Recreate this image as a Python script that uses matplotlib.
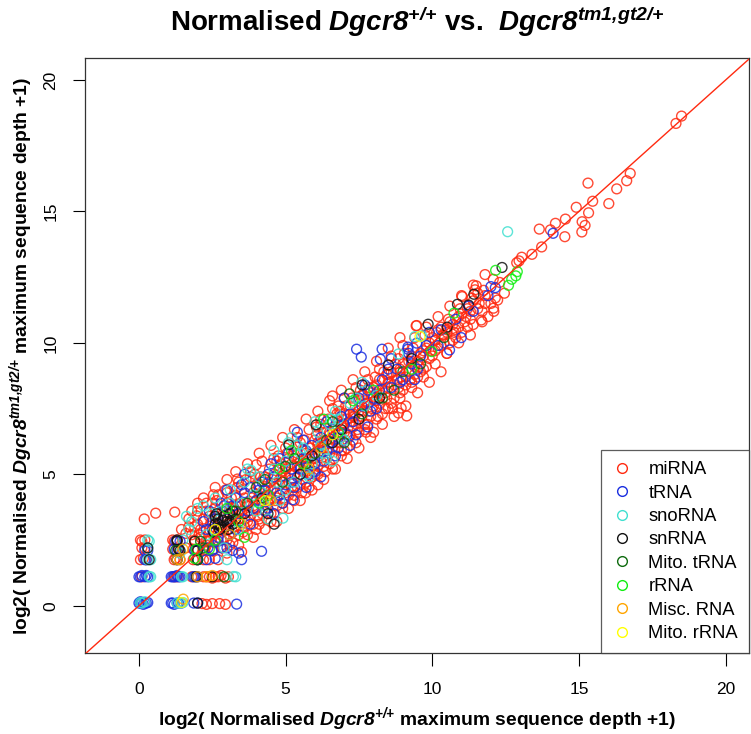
import matplotlib
matplotlib.use("Agg")
import matplotlib.pyplot as plt
from matplotlib.lines import Line2D

plt.rcParams['font.family'] = ['Liberation Sans', 'DejaVu Sans']
plt.rcParams['mathtext.fontset'] = 'custom'
plt.rcParams['mathtext.rm'] = 'Liberation Sans:italic:bold'
plt.rcParams['mathtext.it'] = 'Liberation Sans:italic:bold'
plt.rcParams['mathtext.bf'] = 'Liberation Sans:italic:bold'

categories = ["miRNA", "tRNA", "snoRNA", "snRNA", "Mito. tRNA", "rRNA", "Misc. RNA", "Mito. rRNA"]
colors = ["#ff2a10", "#1a2ee0", "#40e0d0", "#111111", "#0e6b0e", "#10ee10", "#ffa500", "#ffff00"]

mirna_x = [0.1, 0.2, 0.05, 0.15, 0.1, 0.1, 1.2, 1.3, 1.15, 1.2, 1.25, 1.4, 1.9, 1.85, 1.95, 1.8, 2.3, 2.5, 2.7, 2.95,
           2.3, 2.5, 2.75, 2.95, 2.15, 0.18, 0.57, 1.22, 1.96, 2.3, 2.5, 2.4, 2.7, 2.6, 1.45, 2.1, 2.71, 1.6,
           1.7, 2.0, 2.2, 2.4, 2.54, 2.8, 2.9, 3.0, 3.1, 3.2, 2.6, 3.36, 3.3, 3.4, 3.5, 3.5, 2.85, 3.6, 3.7, 3.8,
           3.9, 4.0, 4.0, 4.1, 4.2, 4.3, 4.4, 4.5, 4.5, 4.6, 4.7, 4.8, 4.9, 5.0, 5.0, 5.1, 5.2, 5.3, 5.4, 5.5,
           5.6, 5.68, 5.7, 5.8, 5.9, 6.0, 6.0, 6.1, 6.2, 6.3, 6.4, 6.5, 6.6, 6.6, 6.7, 6.8, 6.9, 7.0, 7.0, 7.1,
           7.2, 7.3, 7.4, 7.5, 7.6, 7.7, 7.8, 7.9, 8.0, 8.0, 8.1, 8.2, 8.3, 8.4, 8.5, 8.6, 8.7, 8.85, 8.94, 9.13,
           8.9, 9.0, 9.1, 9.2, 9.3, 9.45, 9.47, 9.4, 9.5, 9.6, 9.7, 9.8, 9.9, 10.0, 10.1, 10.2, 10.3, 10.4, 10.5,
           10.6, 10.7, 10.8, 10.9, 11.0, 11.02, 11.1, 11.2, 11.3, 11.4, 11.5, 11.46, 11.55, 11.67, 11.7, 11.8,
           11.9, 12.08, 12.15, 12.09, 12.23, 12.46, 12.3, 12.88, 12.96, 13.05, 13.4, 13.65, 13.73, 14.03, 14.2,
           14.52, 14.54, 14.91, 15.1, 15.21, 15.11, 15.33, 15.47, 15.31, 16.02, 16.29, 16.63, 16.75, 18.31, 18.5,
           2.1, 2.3, 2.5, 2.7, 2.9, 3.0, 3.1, 3.2, 3.3, 3.4, 3.5, 3.6, 3.7, 3.8, 3.9, 4.0, 4.1, 4.2, 4.3, 4.4,
           4.5, 4.6, 4.7, 4.8, 4.9, 5.0, 5.1, 5.2, 5.3, 5.4, 5.5, 5.6, 5.7, 5.8, 5.9, 6.0, 6.1, 6.2, 6.3, 6.4,
           6.5, 6.6, 6.7, 6.8, 6.9, 7.0, 7.1, 7.2, 7.3, 7.4, 7.5, 7.6, 7.7, 7.8, 7.9, 8.0, 8.1, 8.2, 8.3, 8.4,
           8.5, 8.6, 8.7, 8.8, 8.9, 9.0, 9.1, 9.2, 9.3, 9.4, 9.5, 9.6, 9.7, 9.8, 9.9, 10.0, 10.1, 10.2, 10.3,
           10.4, 10.5, 10.6, 10.7, 10.8, 10.9, 11.0, 11.2, 11.3, 11.4, 11.6, 11.8, 12.0,
           2.2, 2.6, 3.0, 3.3, 3.6, 3.9, 4.1, 4.4, 4.6, 4.9, 5.2, 5.4, 5.6, 5.9, 6.1, 6.3, 6.6, 6.9, 7.2, 7.5,
           7.8, 5.5, 4.7, 3.8, 6.8, 6.2,
           1.6, 1.7, 1.8, 1.9, 2.0, 2.2, 2.3, 2.4, 2.45, 2.55, 2.65, 2.75, 2.8, 2.95, 3.0,
           3.05, 3.15, 3.25, 3.35, 3.45, 3.55, 3.65, 3.75, 3.85, 3.95, 4.05, 4.15, 4.25, 4.35, 4.45, 4.55, 4.65,
           4.75, 4.85, 4.95,
           5.05, 5.15, 5.25, 5.35, 5.45, 5.55, 5.65, 5.75, 5.85, 5.95, 6.05, 6.15, 6.25, 6.35, 6.45, 6.55, 6.65,
           6.75, 6.85, 6.95,
           7.05, 7.15, 7.25, 7.35, 7.45, 7.55, 7.65, 7.75, 7.85, 7.95, 8.05, 8.15, 8.25, 8.35, 8.45, 8.55, 8.65,
           8.75, 8.85, 8.95,
           9.05, 9.25, 9.35, 9.55, 9.75, 9.95, 10.15, 10.35, 10.55, 10.75, 10.95, 11.15, 11.35, 11.55, 11.75,
           0.05, 0.2, 0.25, 1.15, 1.35, 1.2, 1.3, 1.9, 2.0, 1.85, 2.2, 2.4, 2.6, 2.8, 3.05, 2.2, 2.35, 2.55, 2.25,
           2.0, 2.5, 3.0, 3.4, 3.8, 4.2, 4.6, 5.0, 5.4, 5.8, 6.2, 6.6, 7.0, 7.4, 7.8, 8.2, 8.6, 9.0, 9.4, 9.8,
           10.2, 10.6, 11.0, 11.4, 11.8,
           3.2, 3.7, 4.1, 4.5, 4.9, 5.3, 5.7, 6.1, 6.5, 6.9, 7.3, 7.7, 8.1, 8.5, 8.9, 9.3, 9.7, 10.1, 10.5, 10.9,
           11.3, 11.7, 12.1,
           2.3, 2.9, 3.5, 4.0, 4.4, 4.8, 5.3, 5.7, 6.1, 6.5, 6.9, 7.3, 7.7, 8.1, 8.5, 8.9, 9.3, 9.7, 10.1, 10.5,
           1.8, 2.2, 2.6, 3.0, 3.3, 3.7, 4.1, 4.5, 4.9, 5.3, 5.7, 6.1, 6.5, 6.9, 7.3, 7.7, 8.1, 8.5, 8.9,
           3.0, 3.4, 3.9, 4.3, 4.7, 5.1, 5.5, 5.9, 6.3, 6.7, 7.1, 7.5, 7.9, 8.3, 8.7, 9.1, 9.5, 9.9, 10.3,
           2.05, 2.45, 2.85, 3.25, 3.65, 4.05, 4.45, 4.85, 5.25, 5.65, 6.05, 6.45, 6.85, 7.25, 7.65, 8.05, 8.45,
           8.85]
mirna_y = [2.45, 2.5, 1.75, 1.8, 1.1, 2.2, 2.45, 2.5, 2.15, 1.75, 1.8, 1.75, 2.45, 2.15, 1.75, 1.1, 1.1, 1.05, 1.1, 1.05,
           0.05, 0.08, 0.08, 0.05, 0.08, 3.3, 3.52, 3.56, 3.42, 2.45, 2.1, 1.75, 1.75, 2.45, 2.9, 2.9, 4.22, 2.75,
           3.0, 3.1, 3.3, 2.9, 4.22, 3.0, 2.6, 3.9, 2.3, 3.4, 3.7, 4.82, 3.0, 2.7, 3.6, 2.05, 2.2, 4.1, 3.2, 4.5,
           3.8, 5.36, 2.9, 4.2, 3.5, 4.9, 3.9, 4.4, 3.2, 5.0, 4.1, 4.6, 3.7, 5.2, 4.3, 5.6, 4.8, 4.0, 5.3, 4.6,
           5.9, 4.29, 5.1, 4.5, 5.7, 6.3, 5.0, 4.6, 5.9, 5.3, 6.6, 5.8, 7.98, 5.2, 6.3, 7.0, 5.7, 6.6, 7.3, 6.0,
           7.6, 6.8, 6.2, 7.4, 8.0, 6.9, 7.7, 7.2, 8.3, 6.6, 7.8, 8.6, 7.3, 8.1, 8.8, 7.7, 8.4, 7.33, 7.52, 7.22,
           9.0, 8.2, 8.7, 9.3, 8.5, 10.65, 10.66, 9.1, 8.7, 9.6, 9.0, 9.8, 9.4, 10.2, 9.7, 10.5, 9.9, 10.3, 9.6,
           10.8, 10.1, 10.5, 11.0, 10.4, 11.76, 10.8, 11.3, 10.9, 11.6, 12.17, 12.02, 11.89, 10.87, 11.2, 11.5,
           11.0, 12.42, 11.71, 11.32, 11.63, 11.89, 12.3, 13.05, 13.12, 13.26, 13.37, 14.33, 13.65, 14.3, 14.55,
           14.04, 14.71, 15.16, 14.22, 14.47, 14.61, 14.95, 15.39, 16.08, 15.30, 15.86, 16.17, 16.45, 18.35, 18.63,
           2.6, 3.6, 3.2, 2.8, 3.4, 3.1, 3.7, 2.8, 4.2, 3.3, 4.4, 3.0, 3.8, 3.4, 4.3, 3.7, 4.6, 4.0, 3.6, 4.7,
           4.1, 4.5, 3.8, 5.3, 4.4, 4.9, 4.2, 5.4, 5.0, 4.5, 5.5, 5.1, 5.8, 5.3, 4.9, 5.6, 6.2, 5.5, 6.0, 5.6,
           6.5, 6.0, 6.8, 6.2, 6.6, 5.9, 7.1, 6.5, 7.3, 6.9, 6.6, 7.2, 7.8, 6.9, 8.1, 7.6, 8.4, 7.7, 8.2, 7.5,
           8.3, 8.9, 7.9, 8.6, 8.1, 9.2, 8.4, 8.9, 9.5, 8.8, 9.3, 8.9, 9.5, 9.1, 10.0, 9.5, 10.1, 9.8, 10.6,
           10.0, 10.4, 10.0, 10.7, 10.2, 10.6, 11.1, 10.6, 11.2, 10.7, 11.5, 11.8, 11.5,
           2.1, 2.4, 2.5, 3.8, 3.3, 3.1, 3.3, 4.2, 3.5, 5.1, 4.5, 5.8, 4.8, 5.3, 5.3, 6.6, 6.4, 7.2, 7.0, 7.8,
           7.4, 6.2, 5.5, 4.9, 7.6, 6.9,
           2.2, 3.3, 2.7, 3.0, 3.6, 2.8, 3.9, 3.4, 2.5, 3.0, 4.0, 3.5, 2.5, 4.4, 2.9,
           3.5, 4.1, 3.0, 4.5, 3.9, 2.8, 4.8, 3.6, 4.1, 5.0, 3.4, 4.9, 4.4, 3.3, 5.2, 4.8, 4.0,
           5.7, 4.9, 4.1,
           5.8, 5.0, 4.4, 6.1, 5.2, 4.3, 6.3, 5.6, 6.0, 5.1, 6.8, 5.7, 6.2, 5.1, 7.1, 6.2, 5.6,
           7.3, 6.5, 6.9,
           7.6, 6.4, 7.9, 7.2, 6.7, 8.2, 7.4, 6.6, 8.3, 7.5, 8.7, 7.2, 8.0, 8.9, 7.9, 8.5, 7.5,
           9.2, 8.3, 8.7,
           9.6, 8.6, 9.8, 9.1, 10.3, 9.7, 10.4, 10.3, 10.9, 10.4, 11.3, 11.0, 11.7, 11.3, 12.0,
           2.5, 2.2, 1.75, 2.5, 2.15, 1.1, 1.1, 2.5, 2.15, 1.75, 1.1, 1.1, 1.1, 1.15, 1.1, 1.75, 2.45, 2.15, 2.15,
           3.9, 3.9, 4.3, 4.7, 5.1, 5.5, 5.6, 6.0, 6.4, 6.7, 7.1, 7.5, 7.9, 8.3, 8.6, 9.0, 9.5, 9.9, 10.2, 10.6,
           11.0, 11.4, 11.8, 12.2, 12.6,
           2.4, 2.7, 3.1, 3.5, 3.9, 4.2, 4.7, 5.0, 5.4, 5.9, 6.3, 6.7, 7.1, 7.5, 7.9, 8.3, 8.7, 9.2, 9.6, 10.0,
           10.3, 10.8, 11.2,
           2.3, 2.9, 3.5, 4.0, 4.5, 4.8, 5.3, 5.6, 6.1, 6.6, 6.9, 7.2, 7.7, 8.1, 8.5, 8.9, 9.3, 9.7, 10.1, 10.5,
           3.6, 4.1, 4.5, 4.8, 5.1, 5.4, 5.8, 6.1, 6.4, 6.7, 7.1, 7.4, 7.8, 8.2, 8.6, 8.9, 9.3, 9.8, 10.2,
           2.0, 2.3, 2.6, 2.9, 3.2, 3.7, 4.0, 4.4, 4.8, 5.2, 5.6, 6.0, 6.4, 6.9, 7.2, 7.6, 8.1, 8.5, 8.9,
           2.7, 3.15, 3.6, 3.7, 3.9, 4.6, 4.0, 5.4, 5.7, 5.3, 6.5, 6.0, 7.4, 6.8, 8.0, 7.8, 8.8,
           9.4]

trna_x = [0.0, 0.1, 0.2, 0.3, 0.05, 0.15, 1.1, 1.2, 1.3, 1.45, 1.87, 2.0, 3.33, 0.0, 0.1, 0.2, 0.3, 1.1, 1.2, 1.3,
          1.4, 1.85, 2.0, 0.2, 0.25, 1.2, 1.3, 1.4, 1.9, 2.0, 2.3, 2.6, 3.5, 4.18, 2.35, 2.8, 3.2,
          2.3, 2.6, 2.9, 3.1, 3.4, 3.6, 3.8, 4.0, 4.2, 4.4, 4.6, 4.8, 5.0, 5.25, 5.2, 5.4, 5.6, 5.8, 6.0, 6.2,
          6.4, 6.6, 6.8, 7.0, 7.2, 7.4, 7.42, 7.58, 8.29, 8.23, 9.17, 9.47, 10.99, 10.59, 12.0, 12.15, 11.24,
          14.12, 9.17, 7.6, 7.8, 8.0, 8.3, 8.6, 8.8, 9.0, 9.3, 9.6, 9.9, 10.2, 3.0, 3.7, 4.5, 5.5, 6.5, 7.3,
          6.1, 4.3, 5.9, 3.3, 2.7, 4.9, 5.7, 6.7,
          0.05, 0.25, 1.15, 1.35, 0.05, 0.25, 1.15, 1.25, 1.35, 1.9, 0.2, 0.3, 1.25, 1.3, 1.95, 2.5, 2.7, 3.0,
          3.4, 2.4, 2.8, 3.3, 3.5, 3.9, 4.1, 4.4, 4.7, 5.1, 5.3, 5.7, 6.3, 6.9, 7.1, 7.5, 7.9, 8.2, 8.5, 8.9,
          9.2, 9.5, 9.8, 10.3, 10.8, 11.4, 11.9,
          2.5, 3.2, 3.8, 4.3, 4.8, 5.2, 5.6, 6.0, 6.4, 6.8, 7.2, 7.7, 8.1,
          3.6, 4.6, 5.4, 6.2, 7.0, 7.8, 8.6, 9.4, 3.0, 2.2]
trna_y = [0.1, 0.1, 0.1, 0.12, 0.15, 0.05, 0.1, 0.05, 0.1, 0.1, 0.1, 0.1, 0.06, 1.1, 1.15, 1.1, 1.1, 1.1, 1.1, 1.15,
          1.1, 1.1, 1.1, 2.1, 1.75, 2.15, 2.1, 2.45, 2.1, 1.75, 1.75, 1.8, 1.75, 2.07, 2.2, 2.2, 2.1,
          2.9, 3.3, 3.8, 2.7, 3.5, 4.3, 3.1, 4.0, 4.7, 3.7, 4.9, 4.2, 4.6, 4.03, 5.2, 4.9, 5.6, 5.0, 5.4, 6.4,
          5.9, 6.7, 6.0, 6.9, 7.3, 6.5, 9.76, 9.46, 9.76, 9.38, 9.76, 9.99, 10.2, 9.73, 12.14, 12.1, 11.4,
          14.17, 9.84, 7.6, 8.2, 7.9, 8.6, 8.3, 9.0, 8.6, 9.2, 9.5, 10.4, 9.9, 3.3, 3.6, 5.4, 5.2, 6.2, 7.0,
          5.8, 4.4, 6.1, 4.1, 2.6, 3.9, 4.5, 5.7,
          0.1, 0.1, 0.1, 0.1, 1.1, 1.15, 1.1, 1.1, 1.1, 1.1, 1.75, 2.1, 2.45, 1.75, 2.1, 2.1, 2.45, 2.2,
          2.0, 3.6, 3.9, 2.9, 4.6, 3.7, 4.4, 5.0, 4.3, 5.8, 4.5, 5.9, 5.5, 7.2, 6.5, 7.9, 7.4, 8.2, 9.0, 8.5,
          9.6, 9.0, 9.9, 10.5, 10.9, 11.2, 11.8,
          2.9, 3.8, 4.5, 3.6, 5.6, 4.7, 6.3, 5.1, 7.0, 6.4, 6.1, 8.4, 7.5,
          5.0, 3.5, 6.6, 4.9, 7.9, 6.8, 9.4, 8.6, 4.4, 3.2]

snorna_x = [0.1, 0.2, 1.4, 1.5, 0.4, 1.5, 3.22, 3.0, 0.3, 0.35, 0.3, 1.62, 1.5, 1.7, 2.2, 2.6, 3.11, 3.82, 4.91,
            4.2, 4.6, 5.0, 5.3, 5.6, 5.9, 6.2, 6.5, 6.56, 6.9, 7.2, 8.85, 9.41, 9.64, 12.57, 4.0, 3.5, 5.5,
            2.9, 4.8, 7.7, 3.3,
            0.05, 1.3, 0.35, 1.45, 0.4, 0.3, 1.4, 1.8, 2.3, 2.0, 2.5, 3.1, 3.6, 3.9, 4.3, 4.6, 5.0, 5.4, 5.8,
            6.1, 6.4, 6.8, 7.0, 7.4, 8.1,
            2.8, 3.4, 4.1, 4.7, 5.2, 5.7, 6.3, 6.7,
            3.7, 4.4, 5.1, 6.0, 6.6, 7.6]
snorna_y = [0.1, 0.15, 0.1, 0.12, 1.1, 1.1, 1.11, 1.75, 1.75, 2.45, 2.2, 3.4, 2.5, 2.9, 3.8, 4.1, 4.41, 5.15, 3.33,
            4.3, 5.2, 5.5, 4.7, 6.0, 5.4, 6.1, 6.9, 7.1, 6.4, 7.7, 9.58, 10.24, 10.27, 14.23, 3.6, 3.9, 5.8,
            2.2, 4.0, 7.6, 1.1,
            0.12, 0.1, 1.1, 1.1, 1.75, 2.5, 2.0, 3.2, 2.7, 3.7, 3.5, 3.9, 4.7, 4.2, 3.8, 5.9, 4.4, 6.1, 4.9,
            6.6, 5.6, 7.1, 6.3, 7.9, 8.0,
            3.6, 2.9, 4.9, 4.7, 6.4, 5.0, 5.8, 7.4,
            5.2, 3.3, 6.2, 7.0, 5.5, 8.5]

snrna_x = [2.6, 2.7, 2.8, 2.9, 3.0, 3.1, 2.75, 3.2, 2.65, 3.05, 0.3, 1.3, 1.4, 1.9, 2.0, 2.5, 2.0, 1.3, 4.61,
           5.11, 6.04, 7.61, 8.51, 9.86, 10.51, 11.42, 11.24, 10.86, 12.38, 2.0, 4.2, 3.6, 5.5, 6.6, 7.5,
           2.7, 2.85, 2.95, 3.1, 2.6, 3.2, 2.55, 1.35, 1.3, 0.35, 1.95, 3.3, 4.4, 5.9, 6.9, 8.2, 9.3]
snrna_y = [3.1, 3.3, 3.0, 3.4, 3.2, 3.5, 2.9, 3.1, 3.5, 2.9, 2.2, 2.45, 2.1, 2.45, 2.1, 1.1, 1.75, 1.75, 3.1,
           6.12, 6.88, 8.4, 9.16, 10.71, 10.6, 11.85, 11.44, 11.47, 12.87, 0.1, 4.1, 3.5, 5.0, 6.2, 7.1,
           3.1, 3.25, 3.0, 3.2, 3.4, 3.6, 2.8, 2.15, 2.5, 1.75, 1.1, 3.3, 3.5, 5.7, 6.7, 7.9, 9.4]

mito_trna_x = [2.0, 2.1, 2.9, 3.7, 4.3, 4.9, 5.3, 6.0, 6.4, 7.18, 7.0, 8.3, 9.0, 10.4, 5.7, 8.7,
               1.25, 2.2, 3.3, 4.0, 5.0, 6.6, 7.6, 9.6]
mito_trna_y = [1.75, 2.45, 1.1, 3.9, 4.8, 4.7, 5.6, 5.8, 6.3, 8.06, 6.2, 7.9, 8.9, 10.2, 5.4, 8.2,
               2.1, 2.2, 3.6, 4.5, 5.3, 7.0, 7.3, 9.2]

rrna_x = [1.9, 2.4, 3.0, 3.6, 4.4, 5.6, 6.3, 9.98, 10.74, 12.16, 12.9, 12.85, 12.71, 12.6, 4.8, 6.8, 8.0,
          1.95, 2.6, 3.4, 4.1, 5.2, 7.3, 9.3]
rrna_y = [1.8, 2.15, 3.7, 2.6, 4.2, 5.4, 7.1, 9.67, 11.13, 12.76, 12.71, 12.55, 12.42, 12.19, 5.2, 6.6, 8.2,
          2.15, 2.5, 3.2, 3.9, 5.9, 7.8, 9.0]

misc_x = [1.51, 1.3, 2.0, 2.5, 1.5, 3.1, 4.5, 5.8, 1.4, 2.3, 3.5, 6.2]
misc_y = [0.25, 1.75, 1.1, 1.15, 2.15, 2.7, 4.0, 5.2, 1.75, 1.1, 3.1, 6.0]

mito_rrna_x = [9.58, 4.3, 1.45, 2.6, 6.6]
mito_rrna_y = [10.24, 4.0, 0.12, 2.9, 6.5]

series = [(mirna_x, mirna_y), (trna_x, trna_y), (snorna_x, snorna_y), (snrna_x, snrna_y),
          (mito_trna_x, mito_trna_y), (rrna_x, rrna_y), (misc_x, misc_y), (mito_rrna_x, mito_rrna_y)]

ticks = [0, 5, 10, 15, 20]
tick_labels = ["0", "5", "10", "15", "20"]

fig = plt.figure(figsize=(7.51, 7.34), dpi=100)
W, H = 751, 734
ax = fig.add_axes([85 / W, 1 - 653 / H, (749 - 85) / W, (653 - 58) / H])

for (xs, ys), c in zip(series, colors):
    ax.scatter(xs, ys, s=50, facecolors='none', edgecolors=c, linewidths=1.0, alpha=0.85, zorder=2)

ax.axline((0, 0), slope=1, color='#ff2a10', lw=1.0, zorder=3)

ax.set_xlim(-1.84, 20.8)
ax.set_ylim(-1.8, 20.84)
ax.set_xticks(ticks, labels=tick_labels)
ax.set_yticks(ticks, labels=tick_labels, rotation=90, va='center', ha='right', rotation_mode='default')
ax.tick_params(direction='out', length=9, width=0.8, labelsize=12.5, pad=12)
for s in ax.spines.values():
    s.set_linewidth(0.9)
    s.set_color('#333333')

xl = ax.set_xlabel(r"log2( Normalised $\mathit{Dgcr8}^{\mathit{{+}/{+}}}$ maximum sequence depth +1)",
                   fontsize=13.9, fontweight='bold')
yl = ax.set_ylabel(r"log2( Normalised $\mathit{Dgcr8}^{\mathit{tm1{,}gt2/{+}}}$ maximum sequence depth +1)",
                   fontsize=13.9, fontweight='bold')
xl.set_va('center')
yl.set_va('center')
ax.xaxis.set_label_coords(0.5, (653 - 719) / (653 - 58))
ax.yaxis.set_label_coords((21 - 85) / (749 - 85), 0.5)

fig.text(0.5 * (85 + 749) / W, 1 - 22 / H,
         r"Normalised $\mathit{Dgcr8}^{\mathit{{+}/{+}}}$ vs.  $\mathit{Dgcr8}^{\mathit{tm1{,}gt2/{+}}}$",
         fontsize=20, fontweight='bold', ha='center', va='center')

handles = [Line2D([], [], linestyle='none', marker='o', markersize=7, markerfacecolor='none',
                  markeredgecolor=c, markeredgewidth=1.0) for c in colors]
leg = ax.legend(handles, categories, loc='lower right', bbox_to_anchor=(1, 0), borderaxespad=0,
                fontsize=13.2, frameon=True, fancybox=False, edgecolor='#333333',
                labelspacing=0.35, handletextpad=0.9, borderpad=0.6, handlelength=1.1)
leg.get_frame().set_linewidth(0.9)

# place the rotated y tick labels so their centres sit ~51 px from the left edge
fig.canvas.draw()
renderer = fig.canvas.get_renderer()
centers = [lab.get_window_extent(renderer).x0 * 0.5 + lab.get_window_extent(renderer).x1 * 0.5
           for lab in ax.get_yticklabels() if lab.get_text()]
if centers:
    cur = sum(centers) / len(centers)
    shift_px = cur - 51.0
    ax.tick_params(axis='y', pad=12 + shift_px * 72.0 / 100.0)
# x tick labels: centre ~690 px from top
fig.canvas.draw()
xc = [0.5 * (lab.get_window_extent(renderer).y0 + lab.get_window_extent(renderer).y1)
      for lab in ax.get_xticklabels() if lab.get_text()]
if xc:
    cur_y = H - sum(xc) / len(xc)
    ax.tick_params(axis='x', pad=12 + (690.0 - cur_y) * 72.0 / 100.0)

fig.savefig("out.png", dpi=100)
